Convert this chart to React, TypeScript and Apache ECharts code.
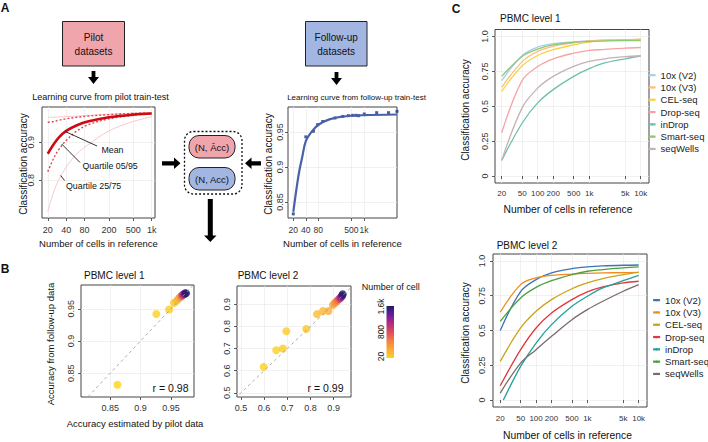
import React, { useEffect, useRef } from 'react';
import * as echarts from 'echarts';

const FONT = '"Liberation Sans", Arial, Helvetica, sans-serif';

// ---------- Panel A: pilot learning curve ----------
const pilotN = [20, 25, 30, 40, 60, 90, 200, 500, 1000];
const pilotMean = [0.870, 0.895, 0.912, 0.930, 0.945, 0.955, 0.966, 0.973, 0.976];
const pilotQ05Upper = [0.953, 0.955, 0.958, 0.962, 0.966, 0.969, 0.973, 0.976, 0.977];
const pilotQ05Lower = [0.823, 0.858, 0.880, 0.905, 0.930, 0.946, 0.962, 0.971, 0.975];
const pilotQ25Upper = [0.966, 0.966, 0.967, 0.968, 0.969, 0.971, 0.974, 0.977, 0.978];
const pilotQ25Lower = [0.718, 0.770, 0.800, 0.835, 0.870, 0.893, 0.930, 0.955, 0.967];
const pilotXTicks = [20, 40, 80, 200, 500, 1000];
const pilotYTicks = [0.8, 0.9];

// ---------- Panel A: follow-up learning curve ----------
const followN = [20, 40, 61, 77, 102, 201, 308, 422, 534, 642, 744, 1018, 2020, 3900, 6220];
const followAcc = [0.833, 0.943, 0.951, 0.9605, 0.965, 0.970, 0.9722, 0.9733, 0.9738, 0.9738, 0.9733, 0.9757, 0.9776, 0.9776, 0.9795];
const followFitN = [20, 24, 28, 33, 40, 58, 84, 147, 300, 1000, 6200];
const followFitAcc = [0.836, 0.870, 0.895, 0.915, 0.937, 0.952, 0.961, 0.968, 0.972, 0.974, 0.975];
const followXTicks = [20, 40, 80, 500, 1000];
const followYTicks = [0.85, 0.9, 0.95];

// ---------- Panel B ----------
const b1Estimated = [0.862, 0.926, 0.947, 0.955, 0.959, 0.962, 0.964, 0.966, 0.968, 0.969, 0.970, 0.972, 0.973, 0.975];
const b1Observed = [0.832, 0.942, 0.949, 0.959, 0.962, 0.965, 0.967, 0.969, 0.970, 0.971, 0.972, 0.973, 0.974, 0.974];
const b1Cells = [20, 40, 60, 100, 150, 200, 300, 400, 600, 800, 1000, 1200, 1400, 1600];
const b2Estimated = [0.598, 0.652, 0.681, 0.696, 0.782, 0.828, 0.854, 0.878, 0.897, 0.905, 0.912, 0.918, 0.924, 0.929, 0.933, 0.937, 0.939];
const b2Observed = [0.617, 0.692, 0.700, 0.778, 0.788, 0.855, 0.869, 0.869, 0.896, 0.905, 0.912, 0.918, 0.923, 0.928, 0.933, 0.938, 0.945];
const b2Cells = [20, 40, 60, 80, 100, 150, 200, 250, 300, 400, 500, 600, 800, 1000, 1200, 1400, 1600];
const b1Ticks = [0.85, 0.9, 0.95];
const b2Ticks = [0.5, 0.6, 0.7, 0.8, 0.9];
const cellColors = ['#FFD21F', '#FBAA36', '#F37F45', '#DD4B5E', '#B42B82', '#6A1D9C', '#221A69'];
const colorbarLabels = ['20', '800', '1.6k'];

// ---------- Panel C ----------
const methods = ['10x (V2)', '10x (V3)', 'CEL-seq', 'Drop-seq', 'inDrop', 'Smart-seq', 'seqWells'];
const cN = [20, 50, 100, 200, 500, 1000, 2000, 5000, 10000];
const c2InDropN = [23, 50, 100, 200, 500, 1000, 2000, 5000, 10000];
const l1_10xV2 = [0.683, 0.864, 0.924, 0.948, 0.962, 0.969, 0.974, 0.976, 0.976];
const l1_10xV3 = [0.636, 0.820, 0.893, 0.929, 0.955, 0.969, 0.974, 0.976, 0.979];
const l1_CEL = [0.607, 0.790, 0.864, 0.905, 0.940, 0.960, 0.969, 0.976, 0.981];
const l1_Drop = [0.310, 0.685, 0.785, 0.840, 0.880, 0.900, 0.907, 0.917, 0.921];
const l1_inDrop = [0.112, 0.380, 0.524, 0.619, 0.714, 0.769, 0.810, 0.840, 0.860];
const l1_Smart = [0.714, 0.857, 0.910, 0.940, 0.958, 0.964, 0.969, 0.971, 0.971];
const l1_seqWells = [0.112, 0.490, 0.630, 0.714, 0.786, 0.821, 0.840, 0.855, 0.862];
const l2_10xV2 = [0.500, 0.780, 0.866, 0.914, 0.945, 0.957, 0.964, 0.969, 0.971];
const l2_10xV3 = [0.631, 0.830, 0.878, 0.897, 0.906, 0.911, 0.914, 0.916, 0.918];
const l2_CEL = [0.278, 0.518, 0.638, 0.722, 0.800, 0.842, 0.873, 0.902, 0.918];
const l2_Drop = [0.103, 0.362, 0.518, 0.626, 0.722, 0.777, 0.813, 0.842, 0.854];
const l2_inDrop = [0.0, 0.242, 0.410, 0.542, 0.674, 0.746, 0.806, 0.858, 0.897];
const l2_Smart = [0.566, 0.734, 0.810, 0.858, 0.902, 0.926, 0.938, 0.950, 0.957];
const l2_seqWells = [0.050, 0.266, 0.362, 0.458, 0.578, 0.650, 0.710, 0.782, 0.830];
const l1Colors = ['#A9CDEB', '#FDBF7E', '#F7D24A', '#F7A3A6', '#6FBFAF', '#90C874', '#C4B3B1'];
const l2Colors = ['#3C74B4', '#F08C1E', '#C9A418', '#E2363D', '#22A09C', '#4CA03D', '#7C6A6A'];
const cXTicks = [20, 50, 100, 200, 500, 1000, 5000, 10000];
const cYTicks = [0, 0.25, 0.5, 0.75, 1];

const L = (n: number) => Math.log10(n);
const kFmt = (v: number) => {
  const n = Math.round(Math.pow(10, v));
  return n >= 1000 ? n / 1000 + 'k' : String(n);
};

function axis(gridIndex: number, min: number, max: number, ticks: number[], fmt: (v: number) => string, isY: boolean, margin: number, fontSize = 9) {
  return {
    type: 'value',
    gridIndex,
    min,
    max,
    axisLine: { show: false },
    axisTick: { show: true, customValues: ticks, length: 3, lineStyle: { color: '#333', width: 0.8 } },
    axisLabel: {
      customValues: ticks,
      formatter: fmt,
      fontSize,
      color: '#333',
      fontFamily: FONT,
      margin,
      rotate: isY ? 90 : 0,
    },
    splitLine: { show: true, lineStyle: { color: '#EBEBEB', width: 0.7 } },
  };
}

function txt(text: string, x: number, y: number, o: any = {}) {
  return {
    type: 'text',
    x,
    y,
    rotation: o.rot || 0,
    z: 100,
    silent: true,
    style: {
      text,
      fill: o.color || '#111',
      fontSize: o.size || 10,
      fontFamily: FONT,
      fontWeight: o.weight || 'normal',
      align: o.align || 'center',
      textAlign: o.align || 'center',
      verticalAlign: 'middle',
      textVerticalAlign: 'middle',
      lineHeight: o.lh,
    },
  };
}
const poly = (points: number[][]) => ({ type: 'polygon', z: 100, silent: true, shape: { points }, style: { fill: '#000' } });
const seg = (x1: number, y1: number, x2: number, y2: number) => ({ type: 'line', z: 100, silent: true, shape: { x1, y1, x2, y2 }, style: { stroke: '#000', lineWidth: 0.8 } });

const numFmt = (v: number) => String(Math.round(v * 100) / 100);
const cYFmt = (v: number) => (v === 1 ? '1.0' : String(v));

function buildOption() {
  const grids = [
    { left: 42, top: 107, width: 113, height: 111 },
    { left: 288, top: 107, width: 109, height: 111 },
    { left: 81, top: 285, width: 113, height: 112 },
    { left: 237, top: 286, width: 114, height: 111 },
    { left: 495, top: 29.5, width: 154, height: 153.5 },
    { left: 493, top: 254, width: 154, height: 153 },
  ].map((g) => ({ ...g, show: true, borderColor: '#444', borderWidth: 1, backgroundColor: 'transparent', containLabel: false, outerBoundsMode: 'none' }));

  const xAxis = [
    axis(0, L(16.1), 3.054, pilotXTicks.map(L), kFmt, false, 7.5),
    axis(1, 1.1736, 3.794, followXTicks.map(L), kFmt, false, 7.5, 8.5),
    axis(2, 0.802, 0.988, b1Ticks, numFmt, false, 6.5),
    axis(3, 0.483, 0.975, b2Ticks, numFmt, false, 6.5),
    axis(4, 1.171, 4.161, cXTicks.map(L), kFmt, false, 6, 8),
    axis(5, 1.16, 4.163, cXTicks.map(L), kFmt, false, 7, 8),
  ];
  const yAxis = [
    axis(0, 0.701, 0.993, pilotYTicks, numFmt, true, 7),
    axis(1, 0.8271, 0.9857, followYTicks, numFmt, true, 3.5),
    axis(2, 0.813, 0.987, b1Ticks, numFmt, true, 6),
    axis(3, 0.481, 0.982, b2Ticks, numFmt, true, 6),
    axis(4, -0.05, 1.05, cYTicks, cYFmt, true, 6),
    axis(5, -0.05, 1.05, cYTicks, cYFmt, true, 6.5),
  ];

  const series: any[] = [];
  const curve = (ax: number, ns: number[], vals: number[], color: string, width: number, type: any = 'solid', name?: string) =>
    series.push({
      type: 'line',
      name,
      xAxisIndex: ax,
      yAxisIndex: ax,
      data: ns.map((n, i) => [L(n), vals[i]]),
      smooth: 0.35,
      symbol: 'none',
      showSymbol: false,
      silent: true,
      lineStyle: { color, width, type },
    });

  // pilot
  curve(0, pilotN, pilotQ25Lower, '#F9C9CB', 1);
  curve(0, pilotN, pilotQ25Upper, '#F9C9CB', 1);
  curve(0, pilotN, pilotQ05Lower, '#E44450', 1.4, [2, 2]);
  curve(0, pilotN, pilotQ05Upper, '#E44450', 1.4, [2, 2]);
  curve(0, pilotN, pilotMean, '#CC0A14', 2.6);

  // follow-up
  curve(1, followFitN, followFitAcc, '#4862A9', 2.2);
  series.push({
    type: 'scatter',
    xAxisIndex: 1,
    yAxisIndex: 1,
    data: followN.map((n, i) => [L(n), followAcc[i]]),
    symbol: 'rect',
    symbolSize: 3,
    silent: true,
    itemStyle: { color: '#1E3388' },
  });

  // panel B diagonals
  series.push({
    type: 'line', xAxisIndex: 2, yAxisIndex: 2, data: [[0.8, 0.8], [1, 1]], symbol: 'none', silent: true,
    lineStyle: { color: '#999', width: 0.8, type: [3, 3] },
  });
  series.push({
    type: 'line', xAxisIndex: 3, yAxisIndex: 3, data: [[0.4, 0.4], [1, 1]], symbol: 'none', silent: true,
    lineStyle: { color: '#999', width: 0.8, type: [3, 3] },
  });
  const scatterStart = series.length;
  series.push({
    type: 'scatter', xAxisIndex: 2, yAxisIndex: 2, symbolSize: 8, silent: true,
    data: b1Estimated.map((x, i) => [x, b1Observed[i], b1Cells[i]]),
  });
  series.push({
    type: 'scatter', xAxisIndex: 3, yAxisIndex: 3, symbolSize: 8, silent: true,
    data: b2Estimated.map((x, i) => [x, b2Observed[i], b2Cells[i]]),
  });

  // panel C
  const l1 = [l1_10xV2, l1_10xV3, l1_CEL, l1_Drop, l1_inDrop, l1_Smart, l1_seqWells];
  const l2 = [l2_10xV2, l2_10xV3, l2_CEL, l2_Drop, l2_inDrop, l2_Smart, l2_seqWells];
  methods.forEach((m, i) => curve(4, cN, l1[i], l1Colors[i], 1.3, 'solid', m));
  methods.forEach((m, i) => curve(5, m === 'inDrop' ? c2InDropN : cN, l2[i], l2Colors[i], 1.3, 'solid', m));

  const legendBase = {
    show: true,
    orient: 'vertical',
    padding: 0,
    itemWidth: 7,
    itemHeight: 2.5,
    itemGap: 0,
    selectedMode: false,
    textStyle: { fontSize: 9.5, fontFamily: FONT, color: '#222', lineHeight: 12.3 },
  };
  const legend = [
    { ...legendBase, left: 647.5, top: 69, data: methods.map((m, i) => ({ name: m, itemStyle: { color: l1Colors[i] }, lineStyle: { color: l1Colors[i], width: 2.2 } })) },
    { ...legendBase, left: 652, top: 294, data: methods.map((m, i) => ({ name: m, itemStyle: { color: l2Colors[i] }, lineStyle: { color: l2Colors[i], width: 2.2 } })) },
  ];

  const pink = '#F0A4AC';
  const blue = '#A3B6E2';
  const graphic: any[] = [
    txt('A', 5, 8, { size: 12, weight: 'bold' }),
    txt('B', 5, 269, { size: 12, weight: 'bold' }),
    txt('C', 456, 9, { size: 12, weight: 'bold' }),
    { type: 'rect', z: 90, silent: true, shape: { x: 62.5, y: 21.5, width: 62, height: 44.5 }, style: { fill: pink, stroke: '#222', lineWidth: 1 } },
    txt('Pilot\ndatasets', 93.5, 44.5, { size: 10, lh: 14 }),
    { type: 'rect', z: 90, silent: true, shape: { x: 305.5, y: 21.5, width: 61.5, height: 44.5 }, style: { fill: blue, stroke: '#222', lineWidth: 1 } },
    txt('Follow-up\ndatasets', 336.2, 44.5, { size: 10, lh: 14 }),
    poly([[91.6, 71], [95.4, 71], [95.4, 77], [99, 77], [93.5, 84], [88, 77], [91.6, 77]]),
    poly([[334.6, 72], [338.4, 72], [338.4, 78], [342, 78], [336.5, 85], [331, 78], [334.6, 78]]),
    poly([[162, 161.2], [174, 161.2], [174, 157.5], [180.5, 163.3], [174, 169], [174, 165.4], [162, 165.4]]),
    poly([[261, 161.2], [251.5, 161.2], [251.5, 157.5], [245, 163.3], [251.5, 169], [251.5, 165.4], [261, 165.4]]),
    poly([[207.8, 199], [212.8, 199], [212.8, 235.5], [216.5, 235.5], [210.3, 242], [204, 235.5], [207.8, 235.5]]),
    { type: 'rect', z: 90, silent: true, shape: { x: 184.5, y: 131.5, width: 57.5, height: 62.5, r: 9 }, style: { fill: 'none', stroke: '#111', lineWidth: 1.3, lineDash: [2, 2] } },
    { type: 'rect', z: 90, silent: true, shape: { x: 189, y: 135.5, width: 46, height: 22.5, r: 10 }, style: { fill: pink, stroke: '#222', lineWidth: 1 } },
    txt('(N, Âcc)', 212, 147, { size: 9.5 }),
    { type: 'rect', z: 90, silent: true, shape: { x: 189, y: 167.5, width: 46, height: 22.5, r: 10 }, style: { fill: blue, stroke: '#222', lineWidth: 1 } },
    txt('(N, Acc)', 212, 179, { size: 9.5 }),
    txt('Learning curve from pilot train-test', 100.5, 97.3, { size: 9 }),
    txt('Learning curve from follow-up train-test', 356.5, 97.3, { size: 8 }),
    txt('Classification accuracy', 23, 164, { size: 10, rot: Math.PI / 2 }),
    txt('Classification accuracy', 268, 164, { size: 10, rot: Math.PI / 2 }),
    txt('Number of cells in reference', 98.5, 243.3, { size: 9.5 }),
    txt('Number of cells in reference', 342.5, 243.3, { size: 9.5 }),
    seg(65.7, 131.7, 97, 146),
    seg(61.7, 144, 80, 162.5),
    seg(60.7, 175.5, 64.5, 180.5),
    txt('Mean', 101.5, 150, { size: 8.8, align: 'left' }),
    txt('Quartile 05/95', 82.5, 166, { size: 8.8, align: 'left' }),
    txt('Quartile 25/75', 66, 186, { size: 8.8, align: 'left' }),
    txt('PBMC level 1', 84, 275, { size: 10, align: 'left' }),
    txt('PBMC level 2', 237.7, 275, { size: 10, align: 'left' }),
    txt('r = 0.98', 188.5, 388, { size: 10.5, align: 'right' }),
    txt('r = 0.99', 343.5, 388, { size: 10.5, align: 'right' }),
    txt('Accuracy from follow-up data', 50, 344, { size: 9.5, rot: Math.PI / 2 }),
    txt('Accuracy estimated by pilot data', 135, 423, { size: 9.5 }),
    txt('Number of cell', 361.7, 287, { size: 9, align: 'left' }),
    {
      type: 'rect', z: 90, silent: true, shape: { x: 386.5, y: 306, width: 7.5, height: 52 },
      style: {
        fill: new echarts.graphic.LinearGradient(0, 1, 0, 0, cellColors.map((c, i) => ({ offset: i / (cellColors.length - 1), color: c }))),
      },
    },
    txt(colorbarLabels[2], 381, 306.5, { size: 8.5, rot: Math.PI / 2 }),
    txt(colorbarLabels[1], 381, 332, { size: 8.5, rot: Math.PI / 2 }),
    txt(colorbarLabels[0], 381, 356.5, { size: 8.5, rot: Math.PI / 2 }),
    txt('PBMC level 1', 500, 18.5, { size: 10, align: 'left' }),
    txt('PBMC level 2', 496.7, 245, { size: 10, align: 'left' }),
    txt('Classification accuracy', 465, 110, { size: 10, rot: Math.PI / 2 }),
    txt('Classification accuracy', 465, 333, { size: 10, rot: Math.PI / 2 }),
    txt('Number of cells in reference', 568, 209, { size: 10.3 }),
    txt('Number of cells in reference', 567.5, 435.7, { size: 10.3 }),
  ];

  return {
    animation: false,
    backgroundColor: '#fff',
    textStyle: { fontFamily: FONT },
    grid: grids,
    xAxis,
    yAxis,
    legend,
    visualMap: {
      type: 'continuous',
      show: false,
      min: 20,
      max: 1600,
      dimension: 2,
      seriesIndex: [scatterStart, scatterStart + 1],
      inRange: { color: cellColors },
    },
    series,
    graphic,
  };
}

export default function App() {
  const ref = useRef<HTMLDivElement>(null);
  useEffect(() => {
    const chart = echarts.init(ref.current!, null, { renderer: 'svg', width: 708, height: 442 });
    chart.setOption(buildOption() as any);
    return () => chart.dispose();
  }, []);
  return <div ref={ref} style={{ position: 'absolute', left: 0, top: 0, width: 708, height: 442, background: '#fff' }} />;
}
